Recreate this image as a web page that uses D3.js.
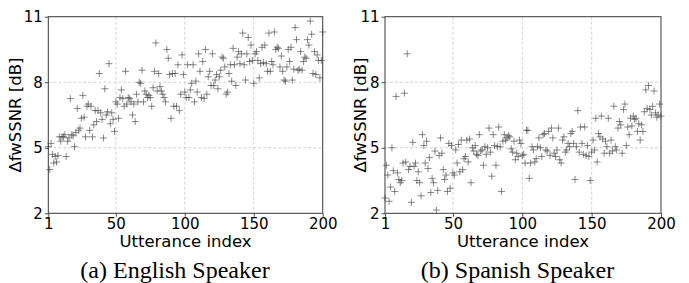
<!DOCTYPE html>
<html><head><meta charset="utf-8">
<script src="https://cdn.jsdelivr.net/npm/d3@7"></script>
<style>
html,body{margin:0;padding:0;background:#fff;}
svg{display:block;}
</style></head>
<body>
<svg id="chart" width="689" height="283"></svg>
<script>
// ---- data ----
const xTicks = [1, 50, 100, 150, 200];
const yTicks = [2, 5, 8, 11];
const panelTitles = ["(a) English Speaker", "(b) Spanish Speaker"];
const yLabel = "ΔfwSSNR [dB]";
const xLabel = "Utterance index";

const englishValues = [
 5.05,4.0,5.2,4.7,4.3,4.6,4.35,4.65,5.5,5.3,5.5,
 5.5,5.6,4.6,5.3,5.45,7.25,5.6,5.55,5.05,5.7,6.8,
 5.8,5.9,6.35,7.4,6.4,5.5,6.9,7.0,5.8,6.9,
 5.5,6.05,6.7,6.2,6.7,8.4,6.6,6.3,5.45,7.7,6.5,
 6.65,8.85,6.1,6.6,6.3,5.75,7.1,7.0,6.35,7.3,
 7.65,7.25,6.9,8.5,7.0,7.3,7.25,7.1,6.5,7.0,
 6.2,7.45,7.1,8.0,7.95,8.55,7.1,7.6,7.45,7.3,
 7.4,7.3,6.9,7.75,8.5,9.8,7.6,8.4,7.8,7.6,7.45,
 7.3,7.1,9.5,9.1,8.35,6.35,8.4,6.9,8.4,6.9,
 8.8,6.7,7.45,9.25,8.35,7.55,7.3,8.8,7.3,7.65,
 7.95,8.8,7.1,8.05,7.55,9.3,8.5,7.3,8.95,7.25,
 9.5,7.45,8.25,8.5,7.85,9.3,7.85,8.1,8.35,7.7,
 8.25,8.55,9.15,9.1,8.7,7.45,7.55,8.4,8.8,8.05,
 9.55,8.8,7.85,9.15,9.4,8.85,9.3,10.25,8.8,8.1,
 9.3,10.05,8.95,9.7,9.0,7.95,9.3,9.4,9.0,8.2,
 8.85,9.6,8.9,9.7,8.85,8.5,10.25,8.5,8.95,8.8,10.3,
 9.5,9.6,9.55,8.7,9.2,8.5,8.1,8.05,8.7,9.5,8.95,
 9.6,8.1,8.6,10.5,9.95,8.55,8.6,9.4,8.55,8.95,9.15,
 9.1,9.95,9.7,10.8,10.2,8.4,9.4,8.35,9.25,9.0,8.2,
 9.0,10.3
];

const spanishValues = [
 2.7,4.2,3.75,2.55,3.2,5.0,3.95,3.0,7.35,3.85,
 3.55,3.4,3.5,4.3,7.5,4.35,9.3,4.0,4.15,2.5,
 5.25,4.15,4.3,3.5,3.9,3.4,2.8,5.6,5.1,4.3,5.3,
 4.05,4.55,2.95,3.6,3.4,4.85,2.15,3.05,4.65,5.45,
 4.75,4.0,3.55,3.75,3.0,5.2,3.15,5.1,3.85,3.75,
 4.9,4.3,5.15,3.9,5.35,4.0,4.5,4.6,5.35,4.35,5.4,
 3.4,5.0,4.85,5.1,4.7,4.65,5.6,4.85,4.9,4.2,
 5.05,4.7,5.0,5.9,4.8,3.7,5.6,5.1,4.2,5.05,
 5.95,5.05,3.0,5.3,5.6,5.35,5.45,5.55,5.5,4.95,
 4.8,5.3,4.45,4.75,4.6,5.35,5.2,4.65,4.7,4.3,
 5.8,5.8,3.6,4.3,5.05,4.9,4.35,4.5,5.05,5.45,
 5.0,4.6,5.6,5.65,4.9,4.85,5.75,4.65,5.9,5.45,4.75,
 4.6,4.9,5.9,4.45,4.3,5.35,5.5,4.8,4.9,5.2,5.05,
 5.65,5.75,5.2,3.55,5.05,6.7,4.8,5.95,5.2,4.7,
 5.95,4.65,5.1,4.6,3.5,4.8,5.35,4.9,6.35,4.35,
 5.65,5.5,6.45,5.4,4.75,5.3,5.05,6.35,4.75,5.35,4.85,
 6.9,5.05,4.9,5.9,6.2,6.05,4.75,6.75,7.0,5.1,5.95,
 5.6,6.35,6.0,6.45,6.3,6.35,5.75,6.1,5.35,6.05,5.75,
 6.65,7.65,6.8,7.85,6.75,6.5,6.9,7.6,6.6,6.4,6.5,7.0,
 6.45
];

// ---- drawing ----
const svg = d3.select("#chart");
const panels = [
  {values: englishValues, left: 48.3, right: 322.7, title: panelTitles[0], labelX: 15, captionX: 175},
  {values: spanishValues, left: 385, right: 661, title: panelTitles[1], labelX: 360, captionX: 517.5}
];
const plotTop = 16.7, plotBottom = 213.3;
const axisColor = "#3a3a3a";

panels.forEach(p => {
  const x = d3.scaleLinear().domain([1, 200]).range([p.left, p.right]);
  const y = d3.scaleLinear().domain([2, 11]).range([plotBottom, plotTop]);
  const g = svg.append("g");

  // grid
  g.append("g").selectAll("line").data(xTicks.filter(t => t !== 1 && t !== 200)).join("line")
    .attr("x1", d => x(d)).attr("x2", d => x(d)).attr("y1", plotTop).attr("y2", plotBottom)
    .attr("stroke", "#c8c8c8").attr("stroke-width", 0.8).attr("stroke-dasharray", "3,2");
  g.append("g").selectAll("line").data(yTicks.filter(t => t !== 2 && t !== 11)).join("line")
    .attr("x1", p.left).attr("x2", p.right).attr("y1", d => y(d)).attr("y2", d => y(d))
    .attr("stroke", "#c8c8c8").attr("stroke-width", 0.8).attr("stroke-dasharray", "3,2");

  // points as '+'
  const data = p.values.map((v, i) => ({i: i + 1, v}));
  const s = 3.5;
  const pts = g.append("g").attr("stroke", "#3c3c3c").attr("stroke-width", 1).attr("stroke-opacity", 0.6);
  pts.selectAll("path").data(data).join("path")
    .attr("d", d => {
      const cx = x(d.i), cy = y(d.v);
      return `M${cx - s},${cy}H${cx + s}M${cx},${cy - s}V${cy + s}`;
    })
    .attr("fill", "none");

  // axes
  const xAxis = d3.axisBottom(x).tickValues(xTicks).tickSize(3.5).tickPadding(2).tickFormat(d3.format("d"));
  const yAxis = d3.axisLeft(y).tickValues(yTicks).tickSize(3.5).tickPadding(2).tickFormat(d3.format("d"));
  const gx = g.append("g").attr("transform", `translate(0,${plotBottom})`).call(xAxis);
  const gy = g.append("g").attr("transform", `translate(${p.left},0)`).call(yAxis);
  [gx, gy].forEach(a => {
    a.select(".domain").remove();
    a.selectAll("line").attr("stroke", axisColor).attr("stroke-width", 0.9);
    a.selectAll("text").attr("fill", "#000").style("font-family", "'DejaVu Sans', sans-serif").style("font-size", "15px");
  });

  // frame
  g.append("rect").attr("x", p.left).attr("y", plotTop)
    .attr("width", p.right - p.left).attr("height", plotBottom - plotTop)
    .attr("fill", "none").attr("stroke", axisColor).attr("stroke-width", 1);

  // labels
  g.append("text").attr("x", (p.left + p.right) / 2).attr("y", 247)
    .attr("text-anchor", "middle").style("font-family", "'DejaVu Sans', sans-serif").style("font-size", "16.5px")
    .text(xLabel);
  g.append("text").attr("transform", `translate(${p.labelX + 6},${(plotTop + plotBottom) / 2}) rotate(-90)`)
    .attr("text-anchor", "middle").style("font-family", "'DejaVu Sans', sans-serif").style("font-size", "16.5px")
    .text(yLabel);
  g.append("text").attr("x", p.captionX).attr("y", 278)
    .attr("text-anchor", "middle").style("font-family", "'Liberation Serif', 'Times New Roman', serif").style("font-size", "24px")
    .text(p.title);
});
</script>
</body></html>
